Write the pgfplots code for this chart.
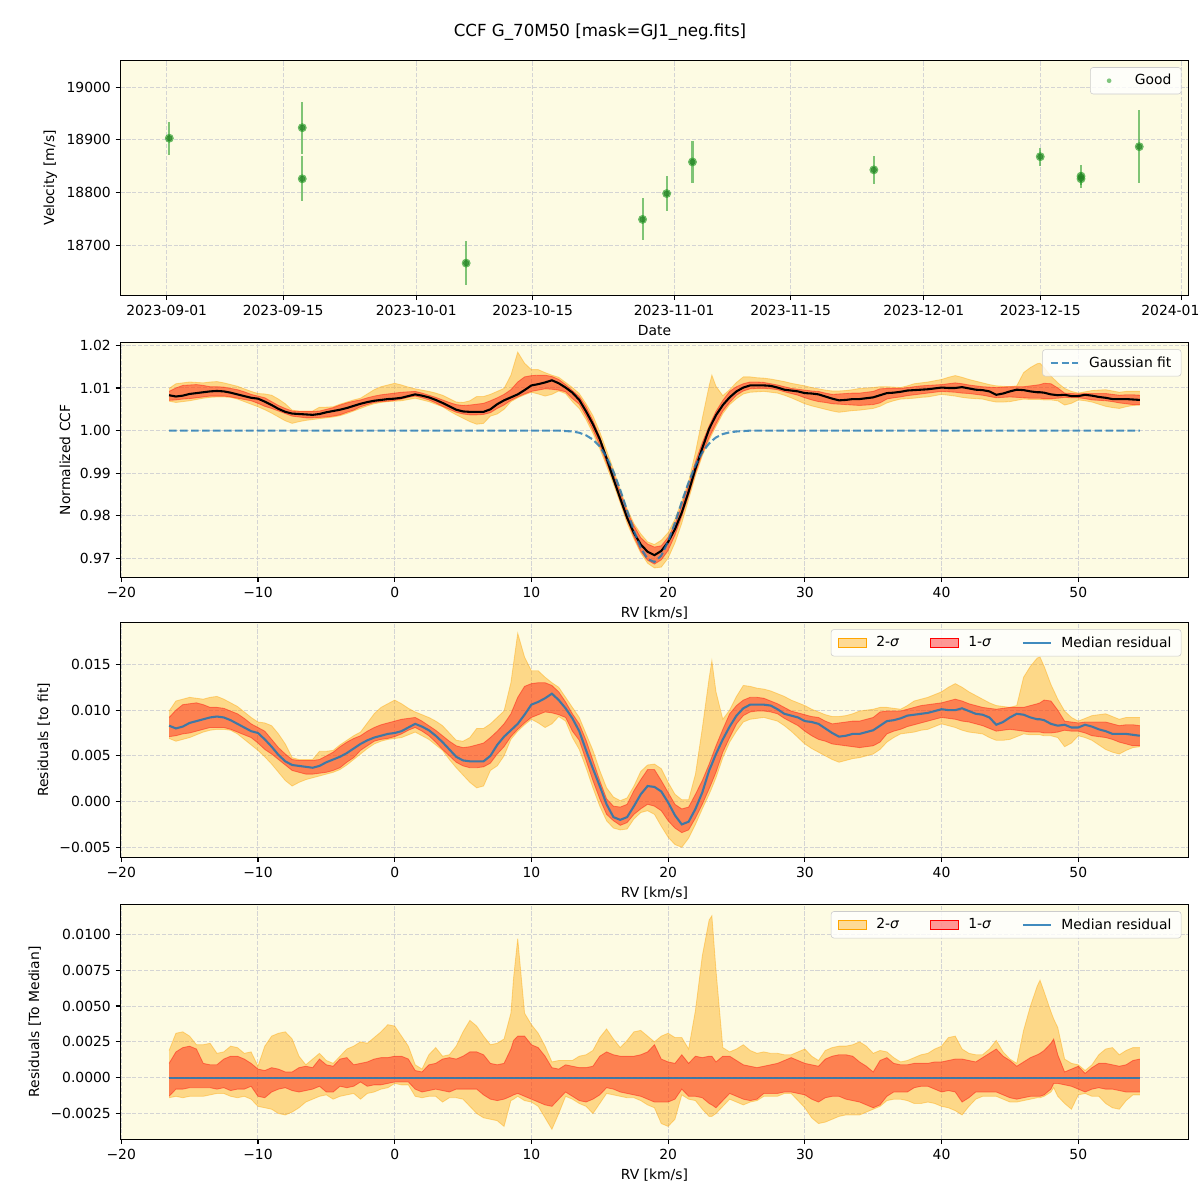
\documentclass[border=0pt]{standalone}
\usepackage{fontspec}
\setmainfont{DejaVu Sans}
\usepackage{pgfplots}
\pgfplotsset{compat=1.18}
\usepackage{pgfplotstable}
\usepgfplotslibrary{fillbetween}
\definecolor{bg}{RGB}{253,251,227}
\definecolor{gridc}{RGB}{212,212,212}
\definecolor{tabblue}{RGB}{31,119,180}
\definecolor{tabgreen}{RGB}{44,160,44}
\definecolor{orng}{RGB}{255,165,0}
\definecolor{legedge}{RGB}{204,204,204}

\pgfplotstableread{
d v e
0.32 18903 31
16.3 18923 49
16.3 18826 43
36.0 18666 42
57.2 18749 40
60.1 18798 34
63.2 18858 40
85.0 18843 27
105.0 18868 17
109.9 18831 22
109.9 18826 12
116.9 18887 69
}\RVdata

\pgfplotstableread{
rv m u1 l1 u2 l2 fit
-16.5 0.0083 0.0092 0.0071 0.0099 0.0069 1
-16.0 0.0080 0.0100 0.0072 0.0110 0.0066 1
-15.5 0.0082 0.0106 0.0074 0.0112 0.0068 1
-15.0 0.0086 0.0107 0.0075 0.0114 0.0070 1
-14.5 0.0088 0.0108 0.0077 0.0113 0.0073 1
-14.0 0.0090 0.0106 0.0079 0.0112 0.0076 1
-13.5 0.0092 0.0103 0.0081 0.0114 0.0078 1
-13.0 0.0093 0.0103 0.0081 0.0115 0.0079 1
-12.5 0.0092 0.0102 0.0081 0.0112 0.0079 1
-12.0 0.0089 0.0099 0.0079 0.0108 0.0078 1
-11.5 0.0085 0.0096 0.0076 0.0104 0.0074 1
-11.0 0.0081 0.0091 0.0073 0.0098 0.0068 1
-10.5 0.0077 0.0085 0.0070 0.0092 0.0062 1
-10.0 0.0075 0.0081 0.0064 0.0087 0.0056 1
-9.5 0.0068 0.0077 0.0057 0.0086 0.0049 1
-9.0 0.0060 0.0068 0.0052 0.0083 0.0041 1
-8.5 0.0051 0.0059 0.0046 0.0074 0.0032 1
-8.0 0.0044 0.0052 0.0040 0.0063 0.0023 1
-7.5 0.0040 0.0046 0.0034 0.0048 0.0017 1
-7.0 0.0039 0.0045 0.0032 0.0046 0.0021 1
-6.5 0.0038 0.0045 0.0030 0.0046 0.0024 1
-6.0 0.0037 0.0045 0.0030 0.0046 0.0026 1
-5.5 0.0039 0.0046 0.0031 0.0055 0.0028 1
-5.0 0.0043 0.0050 0.0032 0.0055 0.0030 1
-4.5 0.0046 0.0054 0.0034 0.0056 0.0032 1
-4.0 0.0049 0.0060 0.0037 0.0062 0.0035 1
-3.5 0.0053 0.0065 0.0043 0.0067 0.0040 1
-3.0 0.0058 0.0069 0.0048 0.0072 0.0046 1
-2.5 0.0063 0.0072 0.0056 0.0076 0.0052 1
-2.0 0.0067 0.0077 0.0061 0.0086 0.0058 1
-1.5 0.0070 0.0081 0.0066 0.0096 0.0063 1
-1.0 0.0072 0.0084 0.0068 0.0103 0.0066 1
-0.5 0.0074 0.0086 0.0069 0.0107 0.0068 1
0.0 0.0075 0.0088 0.0071 0.0111 0.0069 1
0.5 0.0077 0.0090 0.0074 0.0107 0.0070 1
1.0 0.0081 0.0091 0.0078 0.0102 0.0073 1
1.5 0.0085 0.0092 0.0081 0.0098 0.0076 1
2.0 0.0082 0.0088 0.0077 0.0095 0.0072 1
2.5 0.0078 0.0083 0.0072 0.0092 0.0068 1
3.0 0.0072 0.0078 0.0065 0.0088 0.0062 1
3.5 0.0065 0.0072 0.0057 0.0083 0.0056 1
4.0 0.0057 0.0066 0.0050 0.0075 0.0046 1
4.5 0.0049 0.0061 0.0043 0.0067 0.0037 1
5.0 0.0045 0.0059 0.0039 0.0066 0.0029 1
5.5 0.0044 0.0060 0.0037 0.0070 0.0021 1
6.0 0.0044 0.0062 0.0037 0.0080 0.0015 1
6.5 0.0044 0.0064 0.0038 0.0080 0.0017 1
7.0 0.0050 0.0070 0.0042 0.0085 0.0034 1
7.5 0.0062 0.0077 0.0052 0.0092 0.0039 1
8.0 0.0071 0.0085 0.0060 0.0099 0.0050 1
8.5 0.0078 0.0096 0.0071 0.0130 0.0068 1
9.0 0.0085 0.0114 0.0079 0.0184 0.0077 1
9.5 0.0095 0.0126 0.0086 0.0158 0.0084 1
10.0 0.0106 0.0129 0.0092 0.0143 0.0090 1
10.5 0.0109 0.0130 0.0095 0.0143 0.0086 1
11.0 0.0113 0.0130 0.0098 0.0136 0.0081 1
11.5 0.0118 0.0127 0.0097 0.0130 0.0085 1
12.0 0.0111 0.0120 0.0095 0.0125 0.0093 1
12.5 0.0102 0.0109 0.0092 0.0114 0.0088 0.9999
13.0 0.0091 0.0096 0.0077 0.0103 0.0070 0.9998
13.5 0.0077 0.0085 0.0067 0.0092 0.0057 0.9995
14.0 0.0056 0.0067 0.0045 0.0074 0.0037 0.9989
14.5 0.0036 0.0045 0.0023 0.0056 0.0015 0.9979
15.0 0.0017 0.0023 0.0003 0.0034 -0.0005 0.9963
15.5 -0.0003 0.0003 -0.0014 0.0015 -0.0021 0.9938
16.0 -0.0017 -0.0005 -0.0021 0.0005 -0.0029 0.9904
16.5 -0.0020 -0.0006 -0.0026 0.0001 -0.0031 0.9861
17.0 -0.0017 -0.0003 -0.0023 0.0004 -0.0030 0.9813
17.5 -0.0005 0.0012 -0.0014 0.0017 -0.0019 0.9765
18.0 0.0008 0.0024 -0.0008 0.0033 -0.0012 0.9725
18.5 0.0017 0.0035 -0.0003 0.0040 -0.0010 0.9699
19.0 0.0016 0.0035 -0.0005 0.0041 -0.0014 0.9692
19.5 0.0011 0.0023 -0.0010 0.0036 -0.0027 0.9707
20.0 -0.0001 0.0010 -0.0021 0.0021 -0.0039 0.9740
20.5 -0.0015 -0.0003 -0.0029 0.0008 -0.0047 0.9784
21.0 -0.0025 -0.0008 -0.0034 0.0002 -0.0050 0.9833
21.5 -0.0022 -0.0006 -0.0031 0.0002 -0.0040 0.9879
22.0 -0.0008 0.0008 -0.0018 0.0030 -0.0025 0.9919
22.5 0.0010 0.0023 -0.0003 0.0080 -0.0008 0.9949
23.0 0.0034 0.0041 0.0014 0.0135 0.0008 0.9970
23.2 0.0041 0.0049 0.0021 0.0154 0.0015 0.9976
23.5 0.0052 0.0061 0.0032 0.0120 0.0026 0.9984
24.0 0.0068 0.0079 0.0054 0.0090 0.0048 0.9992
24.5 0.0082 0.0096 0.0070 0.0100 0.0065 0.9996
25.0 0.0094 0.0105 0.0085 0.0115 0.0077 0.9998
25.5 0.0102 0.0111 0.0094 0.0127 0.0087 0.9999
26.0 0.0106 0.0114 0.0098 0.0126 0.0090 1
26.5 0.0106 0.0114 0.0099 0.0124 0.0091 1
27.0 0.0106 0.0113 0.0099 0.0123 0.0092 1
27.5 0.0105 0.0110 0.0098 0.0121 0.0090 1
28.0 0.0101 0.0107 0.0096 0.0118 0.0088 1
28.5 0.0096 0.0103 0.0091 0.0115 0.0083 1
29.0 0.0094 0.0099 0.0087 0.0111 0.0077 1
29.5 0.0092 0.0097 0.0083 0.0108 0.0070 1
30.0 0.0088 0.0095 0.0077 0.0105 0.0063 1
30.5 0.0087 0.0093 0.0072 0.0101 0.0058 1
31.0 0.0085 0.0092 0.0068 0.0098 0.0054 1
31.5 0.0080 0.0088 0.0066 0.0095 0.0050 1
32.0 0.0075 0.0085 0.0063 0.0093 0.0046 1
32.5 0.0071 0.0086 0.0062 0.0093 0.0043 1
33.0 0.0072 0.0087 0.0061 0.0094 0.0045 1
33.5 0.0074 0.0088 0.0060 0.0096 0.0047 1
34.0 0.0074 0.0088 0.0059 0.0099 0.0048 1
34.5 0.0076 0.0090 0.0060 0.0100 0.0050 1
35.0 0.0078 0.0092 0.0061 0.0101 0.0052 1
35.5 0.0083 0.0098 0.0065 0.0103 0.0057 1
36.0 0.0088 0.0099 0.0074 0.0103 0.0065 1
36.5 0.0089 0.0099 0.0077 0.0102 0.0070 1
37.0 0.0091 0.0099 0.0079 0.0101 0.0074 1
37.5 0.0094 0.0101 0.0082 0.0105 0.0075 1
38.0 0.0095 0.0103 0.0084 0.0110 0.0076 1
38.5 0.0096 0.0105 0.0086 0.0112 0.0078 1
39.0 0.0097 0.0106 0.0088 0.0114 0.0079 1
39.5 0.0099 0.0107 0.0090 0.0117 0.0082 1
40.0 0.0101 0.0108 0.0092 0.0120 0.0085 1
40.5 0.0100 0.0110 0.0091 0.0125 0.0083 1
41.0 0.0100 0.0112 0.0090 0.0129 0.0081 1
41.5 0.0102 0.0110 0.0088 0.0125 0.0078 1
42.0 0.0099 0.0107 0.0087 0.0120 0.0076 1
42.5 0.0096 0.0105 0.0085 0.0116 0.0075 1
43.0 0.0095 0.0103 0.0083 0.0112 0.0074 1
43.5 0.0092 0.0102 0.0080 0.0108 0.0070 1
44.0 0.0084 0.0101 0.0077 0.0105 0.0067 1
44.5 0.0087 0.0102 0.0078 0.0104 0.0067 1
45.0 0.0092 0.0103 0.0079 0.0103 0.0068 1
45.5 0.0096 0.0103 0.0078 0.0105 0.0071 1
46.0 0.0095 0.0103 0.0077 0.0136 0.0074 1
46.5 0.0092 0.0105 0.0076 0.0148 0.0073 1
47.0 0.0090 0.0107 0.0076 0.0157 0.0073 1
47.2 0.0090 0.0108 0.0076 0.0158 0.0073 1
47.5 0.0089 0.0111 0.0075 0.0148 0.0072 1
48.0 0.0085 0.0110 0.0075 0.0128 0.0072 1
48.5 0.0083 0.0100 0.0076 0.0112 0.0070 1
49.0 0.0084 0.0088 0.0078 0.0099 0.0060 1
49.5 0.0081 0.0087 0.0077 0.0092 0.0064 1
50.0 0.0081 0.0086 0.0077 0.0088 0.0072 1
50.5 0.0084 0.0087 0.0075 0.0091 0.0070 1
51.0 0.0082 0.0087 0.0072 0.0094 0.0067 1
51.5 0.0079 0.0087 0.0071 0.0095 0.0062 1
52.0 0.0077 0.0087 0.0070 0.0096 0.0057 1
52.5 0.0074 0.0085 0.0068 0.0093 0.0054 1
53.0 0.0074 0.0083 0.0065 0.0090 0.0052 1
53.5 0.0074 0.0084 0.0063 0.0092 0.0056 1
54.0 0.0073 0.0084 0.0061 0.0092 0.0059 1
54.5 0.0072 0.0083 0.0061 0.0092 0.0060 1
}\Res

\pgfplotstableread{
rv u1 l1 u2 l2
-16.5 0.0010 -0.0013 0.0019 -0.0014
-16.0 0.0018 -0.0008 0.0031 -0.0013
-15.5 0.0021 -0.0008 0.0032 -0.0014
-15.0 0.0022 -0.0007 0.0029 -0.0013
-14.5 0.0020 -0.0007 0.0023 -0.0013
-14.0 0.0010 -0.0007 0.0023 -0.0013
-13.5 0.0009 -0.0007 0.0024 -0.0012
-13.0 0.0009 -0.0008 0.0017 -0.0011
-12.5 0.0013 -0.0007 0.0018 -0.0011
-12.0 0.0015 -0.0009 0.0022 -0.0013
-11.5 0.0015 -0.0008 0.0021 -0.0014
-11.0 0.0013 -0.0008 0.0017 -0.0013
-10.5 0.0010 -0.0006 0.0018 -0.0015
-10.0 0.0006 -0.0013 0.0008 -0.0020
-9.5 0.0005 -0.0014 0.0022 -0.0021
-9.0 0.0007 -0.0010 0.0029 -0.0022
-8.5 0.0006 -0.0008 0.0031 -0.0025
-8.0 0.0004 -0.0007 0.0032 -0.0026
-7.5 0.0004 -0.0009 0.0027 -0.0024
-7.0 0.0007 -0.0010 0.0015 -0.0021
-6.5 0.0008 -0.0009 0.0009 -0.0017
-6.0 0.0007 -0.0008 0.0013 -0.0015
-5.5 0.0013 -0.0006 0.0017 -0.0013
-5.0 0.0009 -0.0010 0.0012 -0.0012
-4.5 0.0008 -0.0010 0.0010 -0.0015
-4.0 0.0013 -0.0006 0.0015 -0.0013
-3.5 0.0014 -0.0007 0.0020 -0.0012
-3.0 0.0009 -0.0006 0.0022 -0.0011
-2.5 0.0010 -0.0003 0.0025 -0.0015
-2.0 0.0011 -0.0006 0.0024 -0.0011
-1.5 0.0013 -0.0005 0.0028 -0.0010
-1.0 0.0014 -0.0005 0.0032 -0.0008
-0.5 0.0014 -0.0004 0.0037 -0.0007
0.0 0.0015 -0.0003 0.0036 -0.0004
0.5 0.0015 -0.0003 0.0029 -0.0005
1.0 0.0013 -0.0003 0.0022 -0.0005
1.5 0.0005 -0.0008 0.0009 -0.0013
2.0 0.0004 -0.0010 0.0006 -0.0014
2.5 0.0009 -0.0009 0.0016 -0.0013
3.0 0.0010 -0.0008 0.0021 -0.0013
3.5 0.0013 -0.0009 0.0015 -0.0017
4.0 0.0014 -0.0010 0.0016 -0.0014
4.5 0.0013 -0.0008 0.0022 -0.0014
5.0 0.0015 -0.0008 0.0032 -0.0015
5.5 0.0018 -0.0008 0.0040 -0.0020
6.0 0.0018 -0.0008 0.0036 -0.0025
6.5 0.0016 -0.0012 0.0029 -0.0028
7.0 0.0010 -0.0015 0.0023 -0.0029
7.5 0.0009 -0.0016 0.0024 -0.0030
8.0 0.0010 -0.0015 0.0027 -0.0034
8.5 0.0020 -0.0013 0.0045 -0.0016
8.7 0.0026 -0.0012 0.0070 -0.0015
9.0 0.0029 -0.0011 0.0097 -0.0013
9.5 0.0029 -0.0013 0.0045 -0.0016
10.0 0.0023 -0.0015 0.0037 -0.0017
10.5 0.0021 -0.0017 0.0031 -0.0020
11.0 0.0015 -0.0019 0.0022 -0.0028
11.5 0.0007 -0.0020 0.0011 -0.0036
12.0 0.0006 -0.0015 0.0012 -0.0025
12.5 0.0009 -0.0010 0.0012 -0.0013
13.0 0.0008 -0.0013 0.0012 -0.0015
13.5 0.0007 -0.0016 0.0015 -0.0018
14.0 0.0007 -0.0017 0.0016 -0.0020
14.5 0.0008 -0.0015 0.0019 -0.0025
15.0 0.0015 -0.0012 0.0028 -0.0018
15.5 0.0018 -0.0007 0.0034 -0.0011
16.0 0.0016 -0.0008 0.0027 -0.0012
16.5 0.0015 -0.0010 0.0021 -0.0013
17.0 0.0015 -0.0011 0.0026 -0.0014
17.5 0.0015 -0.0012 0.0032 -0.0014
18.0 0.0016 -0.0013 0.0033 -0.0016
18.5 0.0018 -0.0015 0.0029 -0.0019
19.0 0.0023 -0.0017 0.0025 -0.0021
19.5 0.0013 -0.0017 0.0029 -0.0032
20.0 0.0011 -0.0017 0.0031 -0.0034
20.5 0.0010 -0.0015 0.0028 -0.0029
21.0 0.0016 -0.0008 0.0028 -0.0012
21.5 0.0010 -0.0013 0.0020 -0.0015
22.0 0.0015 -0.0013 0.0047 -0.0016
22.5 0.0014 -0.0014 0.0085 -0.0022
23.0 0.0015 -0.0018 0.0110 -0.0027
23.2 0.0015 -0.0019 0.0113 -0.0027
23.5 0.0011 -0.0021 0.0075 -0.0025
24.0 0.0015 -0.0016 0.0021 -0.0020
24.5 0.0015 -0.0011 0.0018 -0.0015
25.0 0.0012 -0.0013 0.0020 -0.0017
25.5 0.0009 -0.0015 0.0023 -0.0019
26.0 0.0008 -0.0016 0.0019 -0.0017
26.5 0.0007 -0.0015 0.0017 -0.0016
27.0 0.0008 -0.0011 0.0018 -0.0013
27.5 0.0009 -0.0011 0.0017 -0.0013
28.0 0.0010 -0.0011 0.0017 -0.0013
28.5 0.0012 -0.0010 0.0016 -0.0011
29.0 0.0014 -0.0010 0.0016 -0.0011
29.5 0.0012 -0.0011 0.0018 -0.0016
30.0 0.0010 -0.0012 0.0020 -0.0021
30.5 0.0009 -0.0015 0.0015 -0.0028
31.0 0.0008 -0.0017 0.0012 -0.0032
31.5 0.0013 -0.0014 0.0019 -0.0031
32.0 0.0015 -0.0013 0.0021 -0.0029
32.5 0.0016 -0.0013 0.0022 -0.0027
33.0 0.0016 -0.0015 0.0022 -0.0026
33.5 0.0015 -0.0016 0.0023 -0.0026
34.0 0.0011 -0.0017 0.0025 -0.0026
34.5 0.0008 -0.0019 0.0022 -0.0024
35.0 0.0004 -0.0021 0.0017 -0.0022
35.5 0.0012 -0.0019 0.0019 -0.0020
36.0 0.0014 -0.0013 0.0018 -0.0016
36.5 0.0010 -0.0010 0.0014 -0.0015
37.0 0.0009 -0.0010 0.0011 -0.0015
37.5 0.0009 -0.0010 0.0012 -0.0016
38.0 0.0010 -0.0007 0.0014 -0.0018
38.5 0.0010 -0.0006 0.0016 -0.0018
39.0 0.0010 -0.0006 0.0017 -0.0017
39.5 0.0011 -0.0008 0.0020 -0.0018
40.0 0.0011 -0.0010 0.0022 -0.0020
40.5 0.0012 -0.0009 0.0028 -0.0021
41.0 0.0013 -0.0010 0.0029 -0.0023
41.5 0.0013 -0.0017 0.0020 -0.0026
42.0 0.0012 -0.0014 0.0017 -0.0020
42.5 0.0011 -0.0010 0.0016 -0.0015
43.0 0.0014 -0.0010 0.0016 -0.0013
43.5 0.0017 -0.0010 0.0020 -0.0013
44.0 0.0020 -0.0010 0.0026 -0.0013
44.5 0.0015 -0.0012 0.0018 -0.0015
45.0 0.0012 -0.0014 0.0013 -0.0017
45.5 0.0008 -0.0015 0.0010 -0.0017
46.0 0.0011 -0.0014 0.0033 -0.0016
46.5 0.0014 -0.0013 0.0050 -0.0015
47.0 0.0016 -0.0013 0.0064 -0.0014
47.2 0.0017 -0.0013 0.0068 -0.0014
47.5 0.0019 -0.0012 0.0060 -0.0013
48.0 0.0024 -0.0008 0.0046 -0.0010
48.2 0.0027 -0.0004 0.0041 -0.0007
48.5 0.0016 -0.0004 0.0035 -0.0013
49.0 0.0004 -0.0005 0.0013 -0.0018
49.5 0.0006 -0.0006 0.0010 -0.0022
50.0 0.0008 -0.0008 0.0009 -0.0012
50.5 0.0003 -0.0010 0.0005 -0.0011
51.0 0.0007 -0.0008 0.0009 -0.0013
51.5 0.0010 -0.0007 0.0016 -0.0013
52.0 0.0010 -0.0008 0.0020 -0.0018
52.5 0.0009 -0.0008 0.0021 -0.0021
53.0 0.0008 -0.0009 0.0016 -0.0022
53.5 0.0009 -0.0010 0.0019 -0.0016
54.0 0.0012 -0.0010 0.0021 -0.0012
54.5 0.0013 -0.0010 0.0021 -0.0012
}\Med

\pgfplotsset{
  base/.style={
    scale only axis, width=768.8pt, height=169.2pt, anchor=south west,
    axis background/.style={fill=bg},
    scaled x ticks=false, scaled y ticks=false,
    tick align=outside, xtick pos=bottom, ytick pos=left,
    major tick length=3.5pt,
    every tick/.style={black, line width=0.8pt},
    axis line style={line width=0.8pt},
    grid=major,
    major grid style={gridc, line width=0.7pt, dash pattern=on 2.96pt off 1.28pt},
    tick label style={font=\fontsize{10}{12}\selectfont, text=black},
    label style={font=\fontsize{10}{12}\selectfont},
    legend cell align=left,
    legend style={font=\fontsize{10}{12}\selectfont, at={(1,1)}, anchor=north east,
      xshift=-5pt, yshift=-5pt, draw=legedge, fill=white, fill opacity=0.8,
      text opacity=1, rounded corners=2pt, inner xsep=5pt, inner ysep=3pt,
      /tikz/every odd column/.append style={column sep=5pt},
      /tikz/every even column/.append style={column sep=20pt}},
  },
  rvax/.style={xmin=-20.05, xmax=58.05, xtick={-20,-10,0,10,20,30,40,50},
    xticklabels={−20,−10,0,10,20,30,40,50}, xlabel={RV [km/s]}},
  sig2/.style={draw=orng, draw opacity=0.4, line width=0.6pt, forget plot},
  sig1/.style={draw=red, draw opacity=0.4, line width=0.6pt, forget plot},
  patchleg/.style={legend image code/.code={
    \fill[#1, fill opacity=0.4, sharp corners] (0pt,-3.5pt) rectangle (20pt,3.5pt);
    \draw[#1, draw opacity=0.45, line width=0.6pt, sharp corners] (0pt,-3.5pt) rectangle (20pt,3.5pt);}},
  lineleg/.style={legend image code/.code={\draw[##1] (0pt,0pt) -- (20pt,0pt);}},
  dotleg/.style={legend image code/.code={\path[draw=none, fill=none] (0pt,-3pt) rectangle (20pt,3pt);
    \fill[tabgreen, opacity=0.6, draw=none] (8.5pt,0pt) circle (1.7pt);}},
}

\begin{document}
\begin{tikzpicture}
\node at (432pt,841pt) {\fontsize{12}{14}\selectfont CCF G\_70M50 [mask=GJ1\_neg.fits]};

% Panel 1
\begin{axis}[base, at={(86.8pt,651.4pt)},
  xmin=-5.54, xmax=122.8, ymin=18605, ymax=19051,
  xtick={0,14,30,44,61,75,91,105,122},
  xticklabels={2023-09-01,2023-09-15,2023-10-01,2023-10-15,2023-11-01,2023-11-15,2023-12-01,2023-12-15,2024-01-01},
  ytick={18700,18800,18900,19000}, yticklabels={18700,18800,18900,19000},
  xlabel={Date}, ylabel={Velocity [m/s]}]
\addplot[only marks, mark=*, mark size=3.0pt, color=tabgreen, opacity=0.6, forget plot,
  error bars/.cd, y dir=both, y explicit, error mark=none,
  error bar style={line width=1.5pt}]
  table[x=d, y=v, y error=e] {\RVdata};
\addplot[only marks, mark=*, mark size=2.0pt, color=tabgreen!80!black, opacity=0.65, forget plot]
  table[x=d, y=v] {\RVdata};
\addlegendimage{dotleg}
\addlegendentry{Good}
\end{axis}

% Panel 2
\begin{axis}[base, rvax, at={(86.8pt,448.3pt)},
  ymin=0.9656, ymax=1.0207,
  ytick={0.97,0.98,0.99,1.00,1.01,1.02}, yticklabels={0.97,0.98,0.99,1.00,1.01,1.02},
  ylabel={Normalized CCF}]
\addplot[sig2, name path=cu2] table[x=rv, y expr=\thisrow{fit}+\thisrow{u2}] {\Res};
\addplot[sig2, name path=cl2] table[x=rv, y expr=\thisrow{fit}+\thisrow{l2}] {\Res};
\addplot[fill=orng, fill opacity=0.4, forget plot] fill between[of=cu2 and cl2];
\addplot[sig1, name path=cu1] table[x=rv, y expr=\thisrow{fit}+\thisrow{u1}] {\Res};
\addplot[sig1, name path=cl1] table[x=rv, y expr=\thisrow{fit}+\thisrow{l1}] {\Res};
\addplot[fill=red, fill opacity=0.4, forget plot] fill between[of=cu1 and cl1];
\addplot[black, line width=1.5pt, forget plot] table[x=rv, y expr=\thisrow{fit}+\thisrow{m}] {\Res};
\addplot[tabblue, opacity=0.8, line width=1.5pt, dash pattern=on 5.5pt off 2.4pt, lineleg]
  table[x=rv, y=fit] {\Res};
\addlegendentry{Gaussian fit}
\end{axis}

% Panel 3
\begin{axis}[base, rvax, at={(86.8pt,246.7pt)},
  ymin=-0.0061, ymax=0.0196,
  ytick={-0.005,0,0.005,0.010,0.015}, yticklabels={−0.005,0.000,0.005,0.010,0.015},
  ylabel={Residuals [to fit]}, legend columns=3]
\addplot[sig2, name path=ru2] table[x=rv, y=u2] {\Res};
\addplot[sig2, name path=rl2] table[x=rv, y=l2] {\Res};
\addplot[fill=orng, fill opacity=0.4, forget plot] fill between[of=ru2 and rl2];
\addplot[sig1, name path=ru1] table[x=rv, y=u1] {\Res};
\addplot[sig1, name path=rl1] table[x=rv, y=l1] {\Res};
\addplot[fill=red, fill opacity=0.4, forget plot] fill between[of=ru1 and rl1];
\addplot[tabblue, opacity=0.85, line width=1.5pt, forget plot] table[x=rv, y=m] {\Res};
\addlegendimage{patchleg=orng}
\addlegendentry{2-\textit{σ}}
\addlegendimage{patchleg=red}
\addlegendentry{1-\textit{σ}}
\addlegendimage{lineleg, tabblue, opacity=0.85, line width=1.5pt}
\addlegendentry{Median residual}
\end{axis}

% Panel 4
\begin{axis}[base, rvax, at={(86.8pt,43.7pt)},
  ymin=-0.0043, ymax=0.0121,
  ytick={-0.0025,0,0.0025,0.005,0.0075,0.01},
  yticklabels={−0.0025,0.0000,0.0025,0.0050,0.0075,0.0100},
  ylabel={Residuals [To Median]}, legend columns=3]
\addplot[sig2, name path=mu2] table[x=rv, y=u2] {\Med};
\addplot[sig2, name path=ml2] table[x=rv, y=l2] {\Med};
\addplot[fill=orng, fill opacity=0.4, forget plot] fill between[of=mu2 and ml2];
\addplot[sig1, name path=mu1] table[x=rv, y=u1] {\Med};
\addplot[sig1, name path=ml1] table[x=rv, y=l1] {\Med};
\addplot[fill=red, fill opacity=0.4, forget plot] fill between[of=mu1 and ml1];
\addplot[tabblue, opacity=0.85, line width=1.5pt, forget plot] coordinates {(-16.5,0) (54.5,0)};
\addlegendimage{patchleg=orng}
\addlegendentry{2-\textit{σ}}
\addlegendimage{patchleg=red}
\addlegendentry{1-\textit{σ}}
\addlegendimage{lineleg, tabblue, opacity=0.85, line width=1.5pt}
\addlegendentry{Median residual}
\end{axis}
\pgfresetboundingbox
\path[use as bounding box] (0pt,0pt) rectangle (864pt,864pt);
\end{tikzpicture}
\end{document}
